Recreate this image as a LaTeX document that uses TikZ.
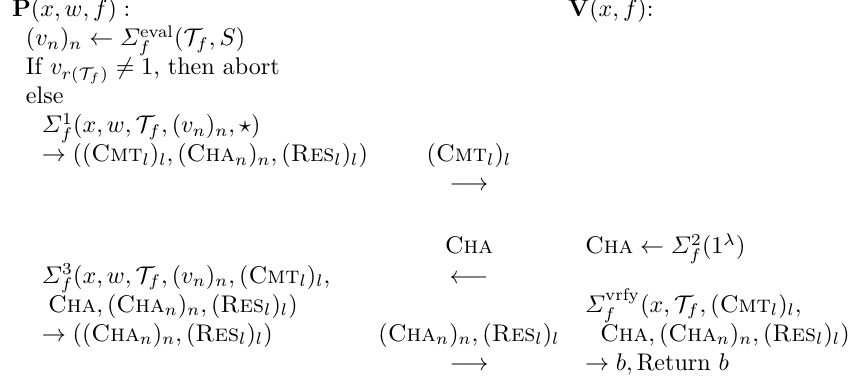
\documentclass[tikz,border=0pt]{standalone}
\usepackage{amsmath}
\newcommand{\Cmt}{\textsc{Cmt}}
\newcommand{\Cha}{\textsc{Cha}}
\newcommand{\Res}{\textsc{Res}}
\newcommand{\Tf}{\mathcal{T}_f}
\begin{document}
\begin{tikzpicture}[x=0.4156pt,y=-0.4156pt,
  lt/.style={anchor=base west, inner sep=0pt, outer sep=0pt},
  ct/.style={anchor=base, inner sep=0pt, outer sep=0pt}]
\useasboundingbox (0,0) rectangle (852,383);
% prover column
\node[lt] (p0) at (12,17) {$\mathbf{P}(x,w,f):$};
\node[lt] (p1) at (26,46) {$(v_n)_n \gets \varSigma_f^{\mathrm{eval}}(\Tf,S)$};
\node[lt] (p2) at (26,75) {If $v_{r(\Tf)}\neq 1$, then abort};
\node[lt] (p3) at (26,104) {else};
\node[lt] (p4) at (42,133) {$\varSigma_f^{1}(x,w,\Tf,(v_n)_n,\star)$};
\node[lt] (p5) at (42,162) {$\rightarrow((\Cmt_l)_l,(\Cha_n)_n,(\Res_l)_l)$};
\node[lt] (p6) at (42,283) {$\varSigma_f^{3}(x,w,\Tf,(v_n)_n,(\Cmt_l)_l,$};
\node[lt] (p7) at (48,312) {$\Cha,(\Cha_n)_n,(\Res_l)_l)$};
\node[lt] (p8) at (42,341) {$\rightarrow((\Cha_n)_n,(\Res_l)_l)$};
% messages
\node[ct] (m1) at (469,162) {$(\Cmt_l)_l$};
\node[ct] (a1) at (469,191) {$\longrightarrow$};
\node[ct] (m2) at (469,254) {$\Cha$};
\node[ct] (a2) at (469,283) {$\longleftarrow$};
\node[ct] (m3) at (469,341) {$(\Cha_n)_n,(\Res_l)_l$};
\node[ct] (a3) at (469,370) {$\longrightarrow$};
% verifier column
\node[lt] (v0) at (568,17) {$\mathbf{V}(x,f)$:};
\node[lt] (v1) at (585,254) {$\Cha\gets\varSigma_f^{2}(1^{\lambda})$};
\node[lt] (v2) at (585,312) {$\varSigma_f^{\mathrm{vrfy}}(x,\Tf,(\Cmt_l)_l,$};
\node[lt] (v3) at (600,341) {$\Cha,(\Cha_n)_n,(\Res_l)_l)$};
\node[lt] (v4) at (585,370) {$\rightarrow b,\mathrm{Return}\ b$};
\end{tikzpicture}
\end{document}
